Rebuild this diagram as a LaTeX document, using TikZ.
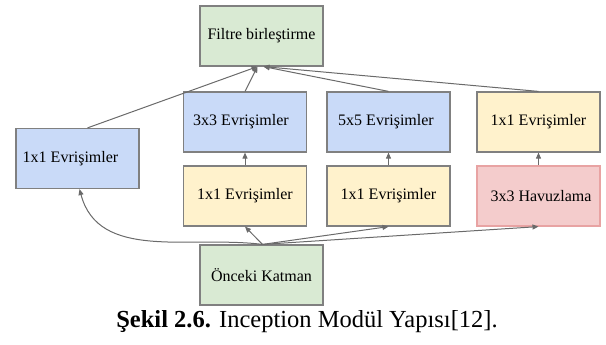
\documentclass[tikz,border=0pt]{standalone}
\usepackage{fontspec}
\setmainfont{Liberation Serif}
\usetikzlibrary{arrows.meta,calc}
\definecolor{gfill}{HTML}{D9EAD3}
\definecolor{bfill}{HTML}{C9DAF8}
\definecolor{yfill}{HTML}{FFF2CC}
\definecolor{rfill}{HTML}{F4CCCC}
\definecolor{rdraw}{HTML}{E8A3A3}
\definecolor{bdraw}{HTML}{808080}
\definecolor{arr}{HTML}{6A6A6A}
\begin{document}
\begin{tikzpicture}[x=1pt,y=-1pt,
  box/.style={draw=bdraw, line width=1.2pt, minimum width=123pt, minimum height=60pt, inner sep=0pt, font=\fontsize{16}{19}\selectfont},
  gbox/.style={box, fill=gfill},
  bbox/.style={box, fill=bfill},
  ybox/.style={box, fill=yfill},
  rbox/.style={box, fill=rfill, draw=rdraw},
  conn/.style={draw=arr, line width=1pt, -{Triangle[length=6pt,width=5pt]}}
]
\useasboundingbox (0,0) rectangle (606,345);
\node[gbox] (filt) at (261.5,36) {Filtre birleştirme};
\node[bbox] (c33) at (245,122) {3x3 Evrişimler\makebox[8pt]{}};
\node[bbox] (c55) at (388.5,122) {5x5 Evrişimler\makebox[5pt]{}};
\node[ybox] (c11r) at (538.5,122) {1x1 Evrişimler};
\node[bbox] (c11l) at (77.5,158.5) {1x1 Evrişimler\makebox[14pt]{}};
\node[ybox] (c11a) at (245,196) {1x1 Evrişimler};
\node[ybox] (c11b) at (388.5,196) {1x1 Evrişimler};
\node[rbox] (pool) at (538.5,196) {\makebox[5pt]{}3x3 Havuzlama};
\node[gbox] (prev) at (261.5,275) {Önceki Katman};
\node[font=\fontsize{24.5}{28}\selectfont] (cap) at (307,322) {\textbf{Şekil 2.6.} Inception Modül Yapısı[12].};

\coordinate (fin1) at ($(filt.south)+(-4,0)$);
\coordinate (fin2) at ($(filt.south)+(2,0)$);
\coordinate (s1) at ($(c11l.north)+(10,0)$);
\coordinate (src) at ($(prev.north)+(1,0)$);

\draw[conn] (s1) -- (fin1);
\draw[conn] (c33.north) -- (fin1);
\draw[conn] (c55.north) -- (fin2);
\draw[conn] (c11r.north) -- (fin2);

\draw[conn] (c11a.north) -- (c33.south);
\draw[conn] (c11b.north) -- (c55.south);
\draw[conn] (pool.north) -- (c11r.south);

\draw[conn] (src) to[out=173,in=-75] ($(c11l.south)+(2,0)$);
\draw[conn] (src) -- (c11a.south);
\draw[conn] (src) -- (c11b.south);
\draw[conn] (src) -- (pool.south);
\end{tikzpicture}
\end{document}
